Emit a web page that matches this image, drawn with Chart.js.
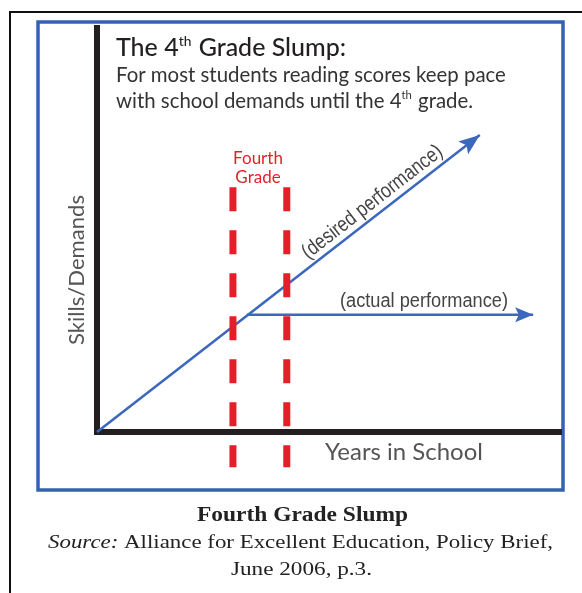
<!DOCTYPE html>
<html>
<head>
<meta charset="utf-8">
<script src="https://cdn.jsdelivr.net/npm/chart.js@4.4.1/dist/chart.umd.min.js"></script>
<style>
  html, body { margin: 0; padding: 0; background: #fff; }
  #wrap { width: 582px; height: 593px; position: relative; }
</style>
</head>
<body>
<div id="wrap"><canvas id="slump"></canvas></div>
<script>
// values (x = years in school, y = skills/demands)
const desiredX = [0, 8.25];
const desiredY = [0, 7.35];
const actualX = [3.23, 9.4];
const actualY = [2.9, 2.9];
const gradeLinesX = [2.93, 4.09];
const gradeLinesY = [6.06, -0.87];
const axisMax = 10;

const blue = '#3b67bd';
const red = '#e51f2a';
const sans = 'Lato, "Noto Sans", sans-serif';
const arial = '"Liberation Sans", Arial, sans-serif';
const serif = '"Liberation Serif", "DejaVu Serif", serif';

function pts(xs, ys) {
    return xs.map((x, i) => ({x: x, y: ys[i]}));
}

// set a font size so the text fills the given width
function fitFont(ctx, text, style, family, width) {
    ctx.font = `${style} 20px ${family}`;
    const size = 20 * width / ctx.measureText(text).width;
    ctx.font = `${style} ${size.toFixed(2)}px ${family}`;
    return size;
}

// draw a run of [text, font] parts squeezed/stretched to a width, starting at x
function drawStretched(ctx, parts, x, y, width) {
    let total = 0;
    for (const [txt, font] of parts) {
        ctx.font = font;
        total += ctx.measureText(txt).width;
    }
    ctx.save();
    ctx.translate(x, y);
    ctx.scale(width / total, 1);
    ctx.textAlign = 'left';
    let cx = 0;
    for (const [txt, font] of parts) {
        ctx.font = font;
        ctx.fillText(txt, cx, 0);
        cx += ctx.measureText(txt).width;
    }
    ctx.restore();
}

// draw text parts left to right, some raised as superscripts
function drawParts(ctx, parts, x, y, size, family, style) {
    for (const [txt, sup] of parts) {
        const s = sup ? size * 0.55 : size;
        ctx.font = `${style} ${s}px ${family}`;
        ctx.fillText(txt, x, sup ? y - size * 0.42 : y);
        x += ctx.measureText(txt).width + (sup ? 1 : 0);
    }
}

function arrowHead(ctx, meta, len, half, color) {
    const p = meta.data;
    const a = p[p.length - 2], b = p[p.length - 1];
    const ang = Math.atan2(b.y - a.y, b.x - a.x);
    ctx.save();
    ctx.translate(b.x, b.y);
    ctx.rotate(ang);
    ctx.fillStyle = color;
    ctx.beginPath();
    ctx.moveTo(0, 0);
    ctx.lineTo(-len, -half);
    ctx.lineTo(-len * 0.8, 0);
    ctx.lineTo(-len, half);
    ctx.closePath();
    ctx.fill();
    ctx.restore();
}

const framePlugin = {
    id: 'frame',
    beforeDraw(chart) {
        const ctx = chart.ctx;
        ctx.save();
        ctx.fillStyle = '#fff';
        ctx.fillRect(0, 0, chart.width, chart.height);
        // outer black page frame
        ctx.strokeStyle = '#111';
        ctx.lineWidth = 2;
        ctx.beginPath();
        ctx.moveTo(582, 12);
        ctx.lineTo(10, 12);
        ctx.lineTo(10, 593);
        ctx.stroke();
        // blue box
        ctx.strokeStyle = '#3561b3';
        ctx.lineWidth = 3.5;
        ctx.strokeRect(38, 22, 525, 468);
        ctx.restore();
    },
    afterDatasetsDraw(chart) {
        const ctx = chart.ctx;
        ctx.save();
        arrowHead(ctx, chart.getDatasetMeta(2), 21, 8, blue);
        arrowHead(ctx, chart.getDatasetMeta(3), 18, 7.5, blue);
        ctx.restore();
    },
    afterDraw(chart) {
        const ctx = chart.ctx;
        ctx.save();
        ctx.textBaseline = 'alphabetic';
        ctx.textAlign = 'left';

        // heading
        ctx.fillStyle = '#231f20';
        drawParts(ctx, [['The 4', false], ['th', true], [' Grade Slump:', false]], 116, 56, 25, sans, '500');
        ctx.fillStyle = '#333';
        fitFont(ctx, 'For most students reading scores keep pace', '400', sans, 390);
        ctx.fillText('For most students reading scores keep pace', 116, 82);
        const sz = parseFloat(ctx.font.match(/([\d.]+)px/)[1]);
        drawParts(ctx, [['with school demands until the 4', false], ['th', true], [' grade.', false]], 116, 108, sz, sans, '400');

        // fourth grade label
        ctx.fillStyle = red;
        ctx.textAlign = 'center';
        ctx.font = `400 17px ${sans}`;
        ctx.fillText('Fourth', 258, 164);
        ctx.fillText('Grade', 258, 183);

        // line labels (narrow lettering)
        ctx.fillStyle = '#444';
        const d = chart.getDatasetMeta(2).data;
        const ang = Math.atan2(d[1].y - d[0].y, d[1].x - d[0].x);
        const t = 0.74;
        ctx.save();
        ctx.translate(d[0].x + (d[1].x - d[0].x) * t, d[0].y + (d[1].y - d[0].y) * t);
        ctx.rotate(ang);
        drawStretched(ctx, [['(desired performance)', `400 21px ${arial}`]], -86, -7, 172);
        ctx.restore();

        drawStretched(ctx, [['(actual performance)', `400 20px ${arial}`]], 340, 307, 168);

        // axis titles
        ctx.fillStyle = '#555';
        ctx.save();
        ctx.translate(84, 270);
        ctx.rotate(-Math.PI / 2);
        ctx.textAlign = 'center';
        fitFont(ctx, 'Skills/Demands', '400', sans, 150);
        ctx.fillText('Skills/Demands', 0, 0);
        ctx.restore();
        ctx.textAlign = 'left';
        fitFont(ctx, 'Years in School', '400', sans, 158);
        ctx.fillText('Years in School', 325, 460);

        // caption
        ctx.fillStyle = '#222';
        drawStretched(ctx, [['Fourth Grade Slump', `700 20px ${serif}`]], 197, 521, 211);
        drawStretched(ctx, [
            ['Source: ', `italic 400 19px ${serif}`],
            ['Alliance for Excellent Education, Policy Brief,', `400 19px ${serif}`]
        ], 48, 548, 505);
        drawStretched(ctx, [['June 2006, p.3.', `400 19px ${serif}`]], 231, 575, 141);
        ctx.restore();
    }
};

const hiddenAxis = {
    type: 'linear',
    min: 0,
    max: axisMax,
    grid: {display: false, drawTicks: false},
    ticks: {display: false},
    border: {display: true, color: '#231f20', width: 6}
};

new Chart(document.getElementById('slump'), {
    type: 'line',
    data: {
        datasets: [
            {data: pts([gradeLinesX[0], gradeLinesX[0]], gradeLinesY), borderColor: red, borderWidth: 7, borderDash: [24, 19], clip: false},
            {data: pts([gradeLinesX[1], gradeLinesX[1]], gradeLinesY), borderColor: red, borderWidth: 7, borderDash: [24, 19], clip: false},
            {data: pts(desiredX, desiredY), borderColor: blue, borderWidth: 2.5, clip: false},
            {data: pts(actualX, actualY), borderColor: blue, borderWidth: 2.5, clip: false}
        ]
    },
    options: {
        responsive: true,
        maintainAspectRatio: false,
        animation: false,
        elements: {point: {radius: 0}, line: {tension: 0, borderCapStyle: 'butt'}},
        layout: {padding: {left: 97, top: 28, right: 21, bottom: 161}},
        plugins: {legend: {display: false}, tooltip: {enabled: false}},
        scales: {x: hiddenAxis, y: hiddenAxis}
    },
    plugins: [framePlugin]
});
</script>
</body>
</html>
